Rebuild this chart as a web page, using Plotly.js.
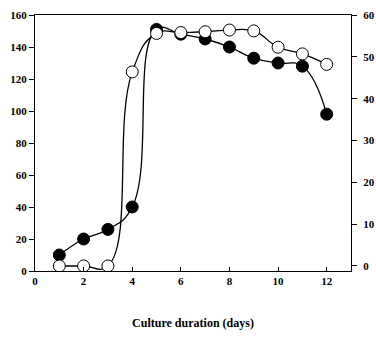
<!DOCTYPE html>
<html>
<head>
<meta charset="utf-8">
<script src="https://cdn.plot.ly/plotly-3.0.1.min.js"></script>
<style>html,body{margin:0;padding:0;background:#fff;}#chart{width:376px;height:347px;}</style>
</head>
<body>
<div id="chart"></div>
<script>
// Culture duration (days)
var days = [1, 2, 3, 4, 5, 6, 7, 8, 9, 10, 11, 12];
// Filled circles (left axis, 0-160)
var filledValues = [10, 20, 26, 40, 151, 148, 145, 140, 133, 130, 128, 98];
// Open circles (right axis, 0-60)
var openValues = [0, 0, 0, 46.4, 55.6, 55.8, 56.0, 56.4, 56.2, 52.3, 50.7, 48.2];
var xTickVals = [0, 2, 4, 6, 8, 10, 12];
var xTitle = 'Culture duration (days)';

var font = {family: '"Liberation Serif", "DejaVu Serif", serif', size: 11, color: '#000'};

var traces = [
  {
    x: days, y: filledValues, type: 'scatter', mode: 'lines+markers',
    line: {color: '#000', width: 1.3, shape: 'spline', smoothing: 1.3},
    marker: {symbol: 'circle', size: 12, color: '#000', line: {color: '#000', width: 1}},
    yaxis: 'y', showlegend: false, cliponaxis: true
  },
  {
    x: days, y: openValues, type: 'scatter', mode: 'lines+markers',
    line: {color: '#000', width: 1.3, shape: 'spline', smoothing: 1.3},
    marker: {symbol: 'circle', size: 12, color: '#fff', line: {color: '#000', width: 1}},
    yaxis: 'y2', showlegend: false
  }
];

var layout = {
  width: 376, height: 347,
  margin: {l: 35, r: 25, t: 15, b: 76, pad: 0},
  paper_bgcolor: '#fff', plot_bgcolor: '#fff',
  font: font,
  showlegend: false,
  xaxis: {
    range: [0, 13], tickvals: xTickVals, ticktext: xTickVals.map(String),
    ticks: 'inside', ticklen: 4, tickwidth: 1, tickcolor: '#000',
    showline: true, linecolor: '#000', linewidth: 1, mirror: true,
    showgrid: false, zeroline: false,
    tickfont: {family: font.family, size: 11, color: '#000', weight: 'bold'},
    title: {text: '<b>' + xTitle + '</b>', standoff: 32,
            font: {family: font.family, size: 12, color: '#000'}},
    automargin: true
  },
  yaxis: {
    range: [0, 160], dtick: 20,
    ticks: 'outside', ticklen: 5, tickwidth: 1, tickcolor: '#000',
    showline: true, linecolor: '#000', linewidth: 1,
    showgrid: false, zeroline: false,
    tickfont: {family: font.family, size: 11, color: '#000', weight: 'bold'}
  },
  yaxis2: {
    range: [-1.2, 60], dtick: 10, overlaying: 'y', side: 'right',
    ticks: 'outside', ticklen: 5, tickwidth: 1, tickcolor: '#000',
    ticklabelstandoff: 4,
    showline: true, linecolor: '#000', linewidth: 1,
    showgrid: false, zeroline: false,
    tickfont: {family: font.family, size: 11, color: '#000', weight: 'bold'}
  }
};

Plotly.newPlot('chart', traces, layout, {displayModeBar: false, staticPlot: true});
</script>
</body>
</html>
